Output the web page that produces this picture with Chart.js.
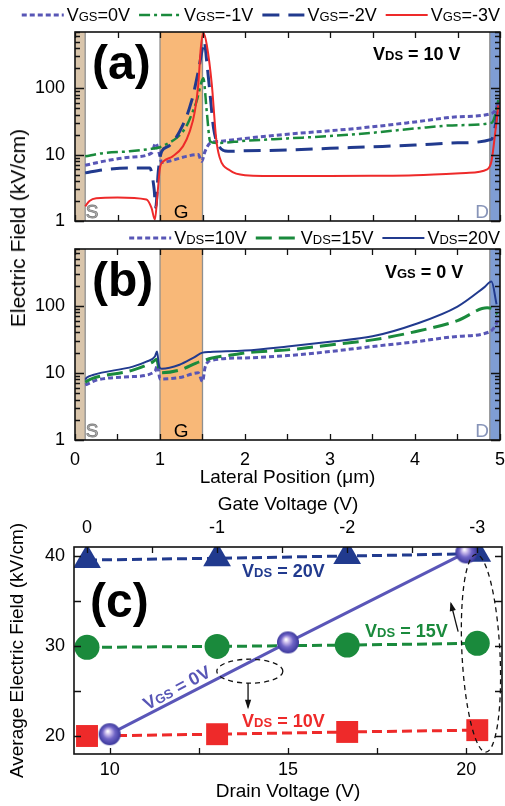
<!DOCTYPE html>
<html>
<head>
<meta charset="utf-8">
<title>Electric field along the channel</title>
<script src="https://cdn.jsdelivr.net/npm/chart.js@4.4.1/dist/chart.umd.min.js"></script>
<style>
  body { margin: 0; background: #fff; }
  #page { position: relative; width: 505px; height: 806px; overflow: hidden; font-family: "Liberation Sans", Arial, sans-serif; }
  canvas { position: absolute; left: 0; }
  #chartA { top: 0; }
  #chartB { top: 226px; }
  #chartC { top: 490px; }
  #efTitle { position: absolute; left: 18px; top: 228px; transform: translate(-50%, -50%) rotate(-90deg); font-size: 21px; white-space: nowrap; color: #000; }
</style>
</head>
<body>
<div id="page">
  <canvas id="chartA" width="505" height="240"></canvas>
  <canvas id="chartB" width="505" height="270"></canvas>
  <canvas id="chartC" width="505" height="316"></canvas>
  <div id="efTitle">Electric Field (kV/cm)</div>
</div>
<script>
const fam = '"Liberation Sans", Arial, Helvetica, sans-serif';
Chart.defaults.font.family = fam;
Chart.defaults.color = '#000';

// panel (a): VDS = 10 V, field vs position for each gate voltage
const vgs0Pos   = [0.12, 0.33, 0.64, 0.9, 0.95, 0.99, 1.02, 1.1, 1.31, 1.45, 1.49, 1.53, 1.59, 1.7, 2.0, 2.5, 3.0, 3.5, 4.0, 4.5, 4.9, 4.95, 4.98];
const vgs0Field = [6.9, 7.9, 9.1, 10.5, 14.9, 10.5, 7.6, 7.9, 9.4, 10, 7.9, 11.2, 14.9, 15.8, 17.5, 20.3, 22.8, 26.2, 31, 37, 41.6, 48, 64];
const vgs1Pos   = [0.12, 0.33, 0.64, 0.9, 0.99, 1.1, 1.2, 1.27, 1.33, 1.37, 1.43, 1.49, 1.51, 1.55, 1.59, 1.66, 2.0, 2.5, 3.0, 3.5, 4.0, 4.5, 4.9, 4.95, 4.98];
const vgs1Field = [9.4, 10.5, 11.2, 12.2, 12.8, 14.9, 18, 22.3, 30, 39.6, 63, 126, 141, 44.6, 15.8, 14.9, 16.1, 17.5, 19, 21.3, 24.7, 27.7, 30, 42, 66];
const vgs2Pos   = [0.12, 0.33, 0.64, 0.88, 0.93, 0.95, 0.98, 1.02, 1.1, 1.27, 1.37, 1.45, 1.5, 1.52, 1.55, 1.59, 1.63, 1.7, 1.8, 2.0, 2.5, 3.0, 3.5, 4.0, 4.5, 4.9, 4.95, 4.98];
const vgs2Field = [5.3, 5.9, 6.3, 6.3, 3.1, 1.6, 5.6, 11.2, 13.3, 28, 63, 178, 400, 505, 250, 79, 25, 13, 11.2, 11.4, 11.7, 12.4, 13.1, 13.9, 15, 16.9, 30, 62];
const vgs3Pos   = [0.12, 0.17, 0.25, 0.5, 0.84, 0.9, 0.94, 0.97, 1.0, 1.04, 1.15, 1.27, 1.35, 1.41, 1.45, 1.48, 1.51, 1.55, 1.61, 1.66, 1.7, 1.82, 2.0, 2.5, 3.0, 3.5, 4.0, 4.6, 4.85, 4.9, 4.95, 4.98];
const vgs3Field = [1.66, 2.0, 2.2, 2.25, 2.1, 1.57, 1.05, 2.5, 6.3, 7.9, 9.4, 13.3, 22.3, 44.6, 112, 400, 680, 450, 112, 17.7, 9.2, 5.8, 4.9, 4.75, 4.75, 4.8, 4.9, 5.3, 6.0, 8, 25, 55];

// panel (b): VGS = 0 V, field vs position for each drain voltage
const vds10Pos   = [0.12, 0.27, 0.68, 0.94, 0.97, 1.0, 1.23, 1.45, 1.5, 1.53, 1.6, 2.0, 2.5, 3.0, 3.5, 4.0, 4.5, 4.88, 4.95, 4.98];
const vds10Field = [6.6, 7.9, 8.8, 10.5, 13, 8.1, 8.5, 10, 7.4, 12, 15.3, 16.7, 18.1, 20.8, 24.7, 29, 35, 41, 52, 66];
const vds15Pos   = [0.12, 0.2, 0.68, 0.92, 0.96, 1.0, 1.23, 1.47, 1.5, 1.6, 1.86, 2.0, 2.5, 3.0, 3.5, 4.0, 4.5, 4.85, 4.92, 4.97];
const vds15Field = [7.3, 8.2, 11, 14.7, 16, 10, 11, 14.7, 15, 16.5, 18.6, 19.8, 22, 26, 31, 41, 60, 93, 90, 75];
const vds20Pos   = [0.12, 0.14, 0.21, 0.68, 0.84, 0.94, 0.965, 0.99, 1.02, 1.23, 1.39, 1.5, 1.59, 2.0, 2.5, 3.0, 3.5, 4.0, 4.5, 4.81, 4.9, 4.96];
const vds20Field = [7.9, 8.5, 9.3, 12.4, 14.7, 17.5, 20.8, 12.4, 11.5, 13.2, 16.7, 20, 20.5, 21.5, 24.7, 29, 35, 53, 97, 186, 229, 105];

// panel (c): average field
const gateV    = [0, -1, -2, -3];
const avgVds20 = [39.55, 39.75, 40.0, 40.25];
const avgVds15 = [29.85, 29.95, 30.1, 30.3];
const avgVds10 = [20.0, 20.2, 20.45, 20.65];
const drainV   = [10, 15, 20];
const avgVgs0  = [20.2, 30.4, 40.4];

// tick values
const fieldTicks = [1, 2, 3, 4, 5, 6, 7, 8, 9, 10, 20, 30, 40, 50, 60, 70, 80, 90, 100, 200, 300, 400, 500, 600, 700];
const fieldMajor = [1, 10, 100];
const posTicks   = [0, 0.5, 1, 1.5, 2, 2.5, 3, 3.5, 4, 4.5, 5];
const drainTicks = [10, 12.5, 15, 17.5, 20];
const gateTicks  = [0, -0.5, -1, -1.5, -2, -2.5, -3];
const avgTicks   = [20, 25, 30, 35, 40];

const PURPLE = '#5856b6', GREEN = '#1a8a3c', NAVY = '#213a8e', RED = '#ee2a2a';

// source / gate / drain bands (µm)
const contacts = [
  { from: 0, to: 0.12, fill: '#d9c5ab', edges: [0.12], letter: 'S', at: 0.2, color: '#b4b4b4', outline: '#7a7a7a' },
  { from: 1.0, to: 1.5, fill: '#f8b878', edges: [1.0, 1.5], letter: 'G', at: 1.25, color: '#000' },
  { from: 4.88, to: 5.0, fill: '#7f9dd4', edges: [4.88], letter: 'D', at: 4.79, color: '#8794b8' }
];

const pts = (xs, ys) => xs.map((x, i) => ({ x, y: ys[i] }));
const fixedTicks = values => s => { s.ticks = values.map(v => ({ value: v })); };
// label offset comes from an invisible tick length instead of ticks.padding
const gap = n => ({ display: false, drawTicks: true, tickLength: n });

// text with small-cap subscripts ("VGS", "VDS")
function richText(ctx, str, x, y, size, o = {}) {
  const weight = o.bold ? 'bold ' : '';
  const runs = str.split(/(GS|DS)/).filter(Boolean).map(t => {
    const small = t === 'GS' || t === 'DS';
    const font = weight + (small ? Math.round(size * 0.72) : size) + 'px ' + fam;
    ctx.font = font;
    return { t, font, w: ctx.measureText(t).width };
  });
  const total = runs.reduce((s, r) => s + r.w, 0);
  if (o.measure) return total;
  let cx = o.align === 'center' ? x - total / 2 : x;
  ctx.fillStyle = o.color || '#000';
  ctx.textAlign = 'left';
  ctx.textBaseline = 'alphabetic';
  for (const r of runs) { ctx.font = r.font; ctx.fillText(r.t, cx, y); cx += r.w; }
  return total;
}

function line(label, xs, ys, color, dash, width, order) {
  return {
    label, data: pts(xs, ys), borderColor: color, borderDash: dash, borderWidth: width, order,
    pointRadius: 0, fill: false, cubicInterpolationMode: 'monotone'
  };
}

// legend row above a panel, right-aligned
function legendRow(y, size) {
  return {
    id: 'legendRow',
    afterDraw(chart) {
      const ctx = chart.ctx, sets = chart.data.datasets;
      const sample = 42, pad = 3, space = 9;
      ctx.save();
      const widths = sets.map(d => richText(ctx, d.label, 0, 0, size, { measure: true }));
      let x = 500 - widths.reduce((s, w) => s + sample + pad + w + space, -space);
      sets.forEach((d, i) => {
        ctx.strokeStyle = d.borderColor;
        ctx.lineWidth = d.borderWidth;
        ctx.setLineDash(d.borderDash || []);
        ctx.beginPath(); ctx.moveTo(x, y); ctx.lineTo(x + sample, y); ctx.stroke();
        ctx.setLineDash([]);
        richText(ctx, d.label, x + sample + pad, y + size * 0.36, size);
        x += sample + pad + widths[i] + space;
      });
      ctx.restore();
    }
  };
}

function contactBands(letterY) {
  return {
    id: 'contactBands',
    beforeDatasetsDraw(chart) {
      const { ctx, chartArea: a, scales: { x } } = chart;
      ctx.save();
      contacts.forEach(c => {
        const x0 = x.getPixelForValue(c.from), x1 = x.getPixelForValue(c.to);
        ctx.fillStyle = c.fill;
        ctx.fillRect(x0, a.top, x1 - x0, a.bottom - a.top);
        ctx.strokeStyle = '#8f8f8f';
        ctx.lineWidth = 1.3;
        c.edges.forEach(e => {
          const p = x.getPixelForValue(e);
          ctx.beginPath(); ctx.moveTo(p, a.top); ctx.lineTo(p, a.bottom); ctx.stroke();
        });
      });
      ctx.restore();
    },
    afterDatasetsDraw(chart) {
      const { ctx, scales: { x, y } } = chart;
      ctx.save();
      ctx.font = '19px ' + fam;
      ctx.textAlign = 'center';
      ctx.textBaseline = 'alphabetic';
      contacts.forEach(c => {
        const px = x.getPixelForValue(c.at), py = y.getPixelForValue(letterY);
        ctx.fillStyle = c.color;
        ctx.fillText(c.letter, px, py);
        if (c.outline) { ctx.strokeStyle = c.outline; ctx.lineWidth = 0.8; ctx.strokeText(c.letter, px, py); }
      });
      ctx.restore();
    }
  };
}

function notes(list, xId) {
  return {
    id: 'notes',
    afterDatasetsDraw(chart) {
      const ctx = chart.ctx, xs = chart.scales[xId], ys = chart.scales.y;
      ctx.save();
      list.forEach(n => richText(ctx, n.text, xs.getPixelForValue(n.x), ys.getPixelForValue(n.y), n.size,
        { bold: n.bold, color: n.color, align: n.align }));
      ctx.restore();
    }
  };
}

// frame box with inward tick marks on every side
function frameTicks(marks) {
  return {
    id: 'frameTicks',
    afterDraw(chart) {
      const { ctx, chartArea: a } = chart;
      ctx.save();
      ctx.setLineDash([]);
      ctx.strokeStyle = '#111';
      ctx.lineWidth = 1.3;
      ctx.beginPath();
      marks.forEach(m => {
        const s = chart.scales[m.scale];
        m.values.forEach(v => {
          const p = Math.round(s.getPixelForValue(v)) + 0.5;
          const len = (!m.majors || m.majors.includes(v)) ? m.major : m.minor;
          m.sides.forEach(side => {
            if (side === 'top') { ctx.moveTo(p, a.top); ctx.lineTo(p, a.top + len); }
            if (side === 'bottom') { ctx.moveTo(p, a.bottom); ctx.lineTo(p, a.bottom - len); }
            if (side === 'left') { ctx.moveTo(a.left, p); ctx.lineTo(a.left + len, p); }
            if (side === 'right') { ctx.moveTo(a.right, p); ctx.lineTo(a.right - len, p); }
          });
        });
      });
      ctx.stroke();
      ctx.lineWidth = 1.6;
      ctx.strokeRect(a.left, a.top, a.right - a.left, a.bottom - a.top);
      ctx.restore();
    }
  };
}

function posScale(labels, height) {
  return {
    type: 'linear', min: 0, max: 5,
    afterBuildTicks: fixedTicks(posTicks),
    afterFit: s => { s.height = height; },
    grid: gap(9), border: { display: false },
    ticks: { display: labels, autoSkip: false, maxRotation: 0, padding: 0, font: { size: 18 },
             callback: v => Number.isInteger(v) ? String(v) : '' },
    title: { display: labels, text: 'Lateral Position (μm)', font: { size: 19 }, padding: { top: 0, bottom: 6.6 } }
  };
}

function fieldScale() {
  return {
    type: 'logarithmic', min: 1, max: 700,
    afterBuildTicks: fixedTicks(fieldTicks),
    afterFit: s => { s.width = 75; },
    grid: gap(10), border: { display: false },
    ticks: { autoSkip: false, padding: 0, font: { size: 18 },
             callback: v => fieldMajor.includes(v) ? String(v) : '' }
  };
}

const baseOpts = {
  responsive: false, animation: false, events: [],
  plugins: { legend: { display: false }, tooltip: { enabled: false } }
};

const profileTicks = [
  { scale: 'x', values: posTicks, sides: ['top', 'bottom'], major: 6, minor: 6 },
  { scale: 'y', values: fieldTicks, majors: fieldMajor, sides: ['left', 'right'], major: 9, minor: 5 }
];

// (a)
new Chart(document.getElementById('chartA'), {
  type: 'line',
  data: { datasets: [
    line('VGS=0V', vgs0Pos, vgs0Field, PURPLE, [5, 3], 3, 3),
    line('VGS=-1V', vgs1Pos, vgs1Field, GREEN, [11, 4, 3, 4], 2.5, 2),
    line('VGS=-2V', vgs2Pos, vgs2Field, NAVY, [17, 9], 3, 1),
    line('VGS=-3V', vgs3Pos, vgs3Field, RED, [], 2, 0)
  ] },
  options: { ...baseOpts,
    layout: { autoPadding: false, padding: { top: 32, right: 5, left: 0, bottom: 0 } },
    scales: { x: posScale(false, 19), y: fieldScale() } },
  plugins: [
    contactBands(1.12),
    notes([
      { text: '(a)', x: 0.2, y: 135, size: 48, bold: true },
      { text: 'VDS = 10 V', x: 3.506, y: 266, size: 18, bold: true }
    ], 'x'),
    frameTicks(profileTicks),
    legendRow(15, 18)
  ]
});

// (b)
new Chart(document.getElementById('chartB'), {
  type: 'line',
  data: { datasets: [
    line('VDS=10V', vds10Pos, vds10Field, PURPLE, [5, 3], 3, 2),
    line('VDS=15V', vds15Pos, vds15Field, GREEN, [16, 7], 3, 1),
    line('VDS=20V', vds20Pos, vds20Field, NAVY, [], 2, 0)
  ] },
  options: { ...baseOpts,
    layout: { autoPadding: false, padding: { top: 23, right: 5, left: 0, bottom: 0 } },
    scales: { x: posScale(true, 56), y: fieldScale() } },
  plugins: [
    contactBands(1.12),
    notes([
      { text: '(b)', x: 0.2, y: 142, size: 48, bold: true },
      { text: 'VGS = 0 V', x: 3.647, y: 260, size: 18, bold: true }
    ], 'x'),
    frameTicks(profileTicks),
    legendRow(12, 18)
  ]
});

// (c)
const sphere = (() => {
  const r = 11, c = document.createElement('canvas');
  c.width = c.height = 2 * r + 2;
  const g = c.getContext('2d'), m = r + 1;
  const grad = g.createRadialGradient(m - 2, m - 3, 0.5, m, m, r);
  grad.addColorStop(0, '#ffffff');
  grad.addColorStop(0.22, '#cbbcec');
  grad.addColorStop(0.55, '#6f64c6');
  grad.addColorStop(1, '#3b389c');
  g.fillStyle = grad;
  g.beginPath(); g.arc(m, m, r, 0, Math.PI * 2); g.fill();
  return c;
})();

const ovals = [
  { x: 13.93, y: 27.2, rx: 33, ry: 12, rot: 0 },
  { x: 20.41, y: 29.2, rx: 19, ry: 99, rot: -0.05 }
];
const arrows = [
  { from: [13.88, 25.9], to: [13.88, 23.2] },
  { from: [19.77, 31.6], to: [19.57, 34.7] }
];

const markup = {
  id: 'markup',
  afterDatasetsDraw(chart) {
    const { ctx, scales: { x, y } } = chart;
    ctx.save();
    ctx.strokeStyle = '#111';
    ctx.fillStyle = '#111';
    ctx.lineWidth = 1.3;
    ctx.setLineDash([5, 4]);
    ovals.forEach(o => {
      ctx.beginPath();
      ctx.ellipse(x.getPixelForValue(o.x), y.getPixelForValue(o.y), o.rx, o.ry, o.rot, 0, Math.PI * 2);
      ctx.stroke();
    });
    ctx.setLineDash([]);
    arrows.forEach(a => {
      const x0 = x.getPixelForValue(a.from[0]), y0 = y.getPixelForValue(a.from[1]);
      const x1 = x.getPixelForValue(a.to[0]), y1 = y.getPixelForValue(a.to[1]);
      const ang = Math.atan2(y1 - y0, x1 - x0);
      ctx.beginPath(); ctx.moveTo(x0, y0); ctx.lineTo(x1, y1); ctx.stroke();
      ctx.beginPath();
      ctx.moveTo(x1 + Math.cos(ang) * 2, y1 + Math.sin(ang) * 2);
      ctx.lineTo(x1 - Math.cos(ang - 0.4) * 8, y1 - Math.sin(ang - 0.4) * 8);
      ctx.lineTo(x1 - Math.cos(ang + 0.4) * 8, y1 - Math.sin(ang + 0.4) * 8);
      ctx.closePath(); ctx.fill();
    });
    // label along the VGS = 0 V line
    const p0x = x.getPixelForValue(drainV[0]), p0y = y.getPixelForValue(avgVgs0[0]);
    const p1x = x.getPixelForValue(drainV[2]), p1y = y.getPixelForValue(avgVgs0[2]);
    ctx.translate(x.getPixelForValue(11.87), y.getPixelForValue(25.44));
    ctx.rotate(Math.atan2(p1y - p0y, p1x - p0x) - 0.02);
    richText(ctx, 'VGS = 0V', 0, 7, 18, { bold: true, color: PURPLE, align: 'center' });
    ctx.restore();
  }
};

new Chart(document.getElementById('chartC'), {
  type: 'line',
  data: { datasets: [
    { label: 'VGS = 0V', xAxisID: 'x', data: pts(drainV, avgVgs0), borderColor: '#5a56b8', borderWidth: 3,
      pointStyle: sphere, pointRadius: 11 },
    { label: 'VDS = 20V', xAxisID: 'x2', data: pts(gateV, avgVds20), borderColor: NAVY, borderDash: [10, 5], borderWidth: 3,
      pointStyle: 'triangle', pointRadius: 16, pointBackgroundColor: NAVY, pointBorderWidth: 0 },
    { label: 'VDS = 15V', xAxisID: 'x2', data: pts(gateV, avgVds15), borderColor: GREEN, borderDash: [10, 5], borderWidth: 3,
      pointStyle: 'circle', pointRadius: 12.5, pointBackgroundColor: GREEN, pointBorderWidth: 0 },
    { label: 'VDS = 10V', xAxisID: 'x2', data: pts(gateV, avgVds10), borderColor: RED, borderDash: [10, 5], borderWidth: 3,
      pointStyle: 'rect', pointRadius: 15.5, pointBackgroundColor: RED, pointBorderWidth: 0 }
  ] },
  options: { ...baseOpts,
    layout: { autoPadding: false, padding: { top: 0, right: 3, left: 0, bottom: 0 } },
    scales: {
      x: { type: 'linear', position: 'bottom', min: 9, max: 21,
        afterBuildTicks: fixedTicks(drainTicks), afterFit: s => { s.height = 52; },
        grid: gap(5.2), border: { display: false },
        ticks: { autoSkip: false, maxRotation: 0, padding: 0, font: { size: 18 }, callback: v => v % 5 === 0 ? String(v) : '' },
        title: { display: true, text: 'Drain Voltage (V)', font: { size: 19 }, padding: { top: 0, bottom: 2.6 } } },
      x2: { type: 'linear', position: 'top', min: -3.19, max: 0.1, reverse: true,
        afterBuildTicks: fixedTicks(gateTicks), afterFit: s => { s.height = 57; },
        grid: gap(8.2), border: { display: false },
        ticks: { autoSkip: false, maxRotation: 0, padding: 0, font: { size: 18 }, callback: v => Number.isInteger(v) ? String(v) : '' },
        title: { display: true, text: 'Gate Voltage (V)', font: { size: 19 }, padding: { top: 3.6, bottom: 0 } } },
      y: { type: 'linear', min: 18, max: 41,
        afterBuildTicks: fixedTicks(avgTicks), afterFit: s => { s.width = 74; },
        grid: gap(9), border: { display: false },
        ticks: { autoSkip: false, padding: 0, font: { size: 18 }, callback: v => v % 10 === 0 ? String(v) : '' },
        title: { display: true, text: 'Average Electric Field (kV/cm)', font: { size: 19 }, padding: { top: 6.6, bottom: 0 } } }
    } },
  plugins: [
    notes([
      { text: '(c)', x: 9.45, y: 33.17, size: 48, bold: true },
      { text: 'VDS = 20V', x: 14.87, y: 37.67, size: 18, bold: true, color: NAVY, align: 'center' },
      { text: 'VDS = 15V', x: 18.32, y: 31.0, size: 18, bold: true, color: GREEN, align: 'center' },
      { text: 'VDS = 10V', x: 14.87, y: 21.0, size: 18, bold: true, color: RED, align: 'center' }
    ], 'x'),
    markup,
    frameTicks([
      { scale: 'x', values: drainTicks, sides: ['bottom'], major: 6, minor: 6 },
      { scale: 'x2', values: gateTicks, sides: ['top'], major: 6, minor: 6 },
      { scale: 'y', values: avgTicks, sides: ['left', 'right'], major: 7, minor: 7 }
    ])
  ]
});
</script>
</body>
</html>
